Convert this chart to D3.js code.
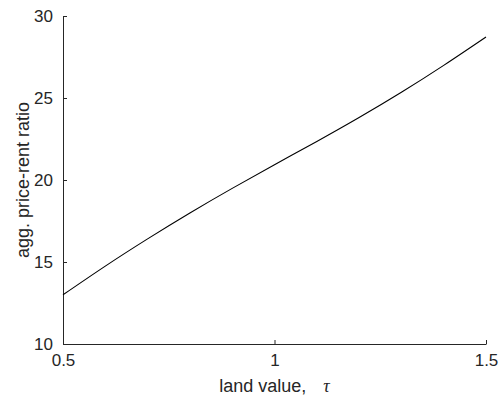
<!DOCTYPE html>
<html>
<head>
<meta charset="utf-8">
<script src="https://cdn.jsdelivr.net/npm/d3@7"></script>
<style>
  html, body { margin: 0; padding: 0; background: #fff; }
  svg { display: block; }
  text { font-family: "Liberation Sans", Arial, Helvetica, sans-serif; fill: #262626; }
</style>
</head>
<body>
<svg id="chart" width="502" height="401"></svg>
<script>
const landValue = [0.5, 0.6, 0.7, 0.8, 0.9, 1.0, 1.1, 1.2, 1.3, 1.4, 1.5];
const priceRent = [13.0, 14.75, 16.41, 17.99, 19.49, 20.93, 22.35, 23.81, 25.35, 26.99, 28.72];
const xTicks = [0.5, 1, 1.5];
const yTicks = [10, 15, 20, 25, 30];
const xLabel = "land value,";
const xSymbol = "τ";
const yLabel = "agg. price-rent ratio";

const svg = d3.select("#chart");
const margin = {left: 63, right: 16, top: 16, bottom: 57};
const W = 502, H = 401;

const x = d3.scaleLinear().domain([0.5, 1.5]).range([margin.left, W - margin.right]);
const y = d3.scaleLinear().domain([10, 30]).range([H - margin.bottom, margin.top]);

const axisColor = "#262626";

// x axis
const gx = svg.append("g")
  .attr("transform", `translate(0,${H - margin.bottom})`)
  .call(d3.axisBottom(x).tickValues(xTicks).tickSizeInner(-4).tickSizeOuter(0)
        .tickFormat(d3.format("")));
gx.select(".domain").attr("stroke", axisColor);
gx.selectAll(".tick line").attr("stroke", axisColor);
gx.selectAll(".tick text").attr("y", 10).attr("dy", "0.71em")
  .style("font-size", "17px").attr("fill", axisColor);

// y axis
const gy = svg.append("g")
  .attr("transform", `translate(${margin.left},0)`)
  .call(d3.axisLeft(y).tickValues(yTicks).tickSizeInner(-4).tickSizeOuter(0)
        .tickFormat(d3.format("")));
gy.select(".domain").attr("stroke", axisColor);
gy.selectAll(".tick line").attr("stroke", axisColor);
gy.selectAll(".tick text").attr("x", -10)
  .style("font-size", "17px").attr("fill", axisColor);

// line
const line = d3.line()
  .x((d, i) => x(landValue[i]))
  .y(d => y(d))
  .curve(d3.curveNatural);
svg.append("path")
  .datum(priceRent)
  .attr("d", line)
  .attr("fill", "none")
  .attr("stroke", "#000")
  .attr("stroke-width", 1.1);

// x label
const xl = svg.append("text")
  .attr("x", (x(0.5) + x(1.5)) / 2)
  .attr("y", 392)
  .attr("text-anchor", "middle")
  .style("font-size", "18px");
xl.append("tspan").text(xLabel);
xl.append("tspan").attr("dx", 17)
  .style("font-family", "'Liberation Serif', 'DejaVu Serif', serif")
  .style("font-style", "italic")
  .text(xSymbol);

// y label
svg.append("text")
  .attr("transform", `translate(29,${(y(10) + y(30)) / 2}) rotate(-90)`)
  .attr("text-anchor", "middle")
  .style("font-size", "18px")
  .text(yLabel);
</script>
</body>
</html>
